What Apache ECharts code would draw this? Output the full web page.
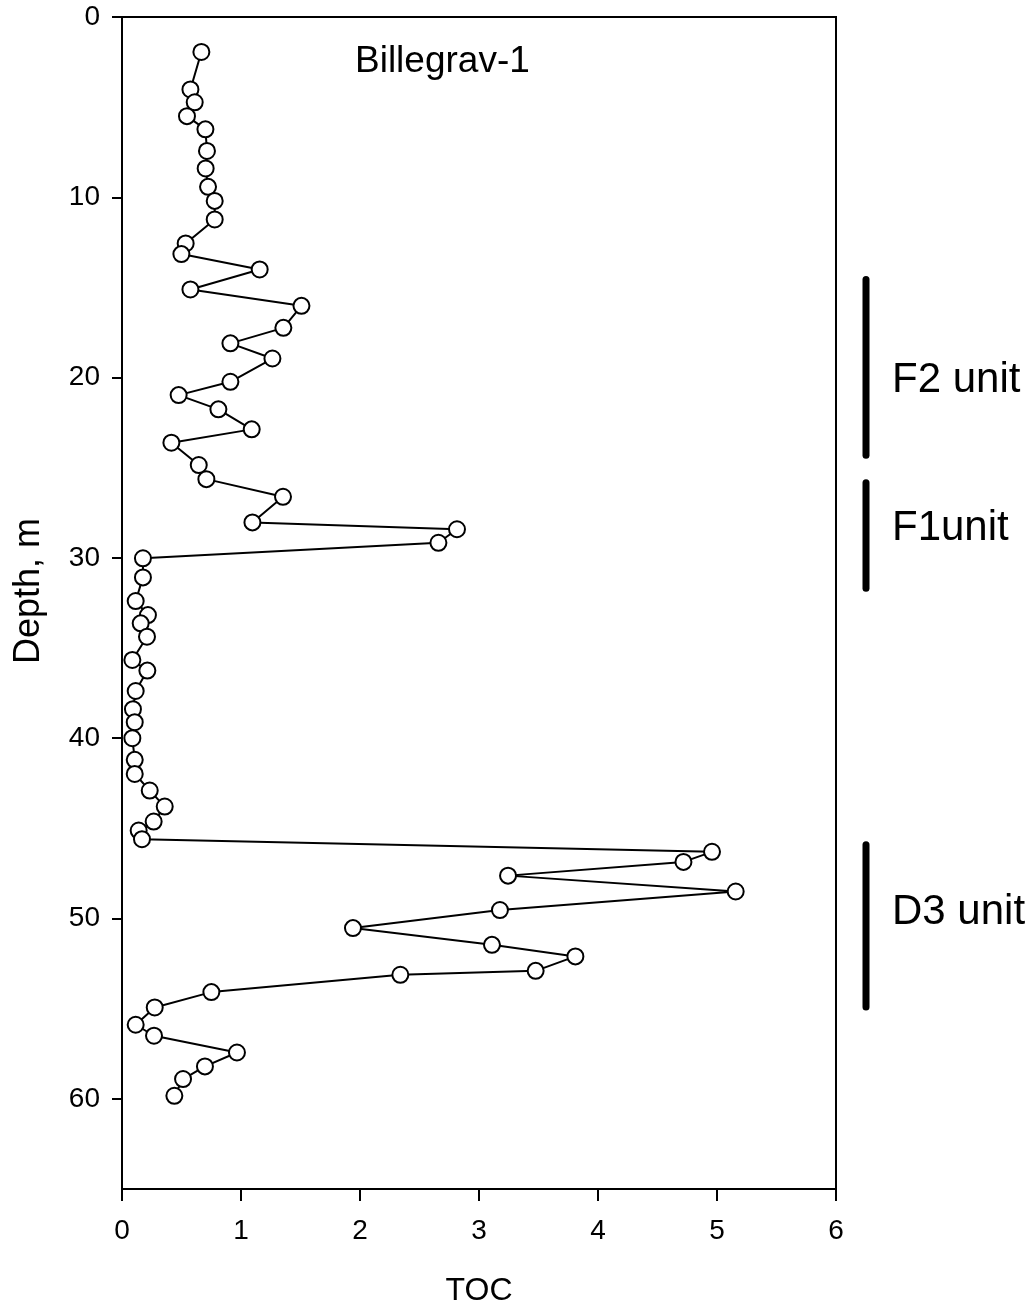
<!DOCTYPE html>
<html>
<head>
<meta charset="utf-8">
<script src="https://cdn.jsdelivr.net/npm/echarts@6/dist/echarts.min.js"></script>
<style>
html,body{margin:0;padding:0;background:#fff;}
#c{width:1029px;height:1305px;}
</style>
</head>
<body>
<div id="c"></div>
<script>
// ---- data ----
const depth = [1.94,4.02,4.73,5.50,6.23,7.43,8.40,9.42,10.20,11.23,12.56,13.15,14.00,15.11,16.02,17.24,18.10,18.94,20.23,20.97,21.76,22.87,23.61,24.85,25.63,26.61,28.03,28.41,29.16,30.02,31.08,32.39,33.17,33.63,34.37,35.66,36.25,37.38,38.39,39.11,40.00,41.20,41.98,42.90,43.79,44.62,45.12,45.60,46.30,46.86,47.62,48.50,49.53,50.53,51.46,52.10,52.90,53.12,54.08,54.93,55.89,56.50,57.43,58.20,58.90,59.83];
const toc = [0.667,0.575,0.611,0.546,0.701,0.714,0.703,0.723,0.779,0.779,0.535,0.499,1.157,0.575,1.508,1.356,0.911,1.264,0.911,0.476,0.810,1.090,0.415,0.645,0.709,1.353,1.096,2.815,2.659,0.176,0.176,0.115,0.218,0.157,0.210,0.087,0.213,0.115,0.092,0.107,0.087,0.107,0.107,0.233,0.359,0.266,0.140,0.168,4.958,4.718,3.244,5.157,3.176,1.941,3.109,3.810,3.476,2.339,0.751,0.275,0.115,0.269,0.966,0.697,0.513,0.440];
const xTicks = [0,1,2,3,4,5,6];
const yTicks = [0,10,20,30,40,50,60];
const unitNames = ['F2 unit','F1unit','D3 unit'];
const unitTop = [14.56,25.83,45.91];
const unitBottom = [24.30,31.68,54.91];
const titleText = 'Billegrav-1';
const xName = 'TOC';
const yName = 'Depth, m';

// ---- layout constants (not data) ----
const FONT = '"Liberation Sans", Arial, sans-serif';
const labelShift = [13,-7,-14]; // px offsets of unit labels relative to bar middle

const chart = echarts.init(document.getElementById('c'), null, {renderer:'canvas'});
const points = depth.map((d,i)=>[toc[i], d]);

chart.setOption({
  animation:false,
  backgroundColor:'#fff',
  title:{
    text:titleText, left:350, top:38,
    textStyle:{fontFamily:FONT, fontSize:37, fontWeight:'normal', color:'#000'}
  },
  grid:{left:122, right:193, top:17, bottom:116, outerBoundsMode:'none', containLabel:false,
        show:true, borderColor:'#000', borderWidth:2, backgroundColor:'transparent'},
  xAxis:{
    type:'value', min:0, max:6, interval:1, position:'bottom',
    name:xName, nameLocation:'middle', nameGap:86,
    nameTextStyle:{fontFamily:FONT, fontSize:32, color:'#000'},
    axisLine:{show:true, onZero:false, lineStyle:{color:'#000', width:2}},
    axisTick:{show:true, inside:false, length:12, lineStyle:{color:'#000', width:2}},
    axisLabel:{show:true, margin:28, fontFamily:FONT, fontSize:28, color:'#000', customValues:xTicks},
    splitLine:{show:false}
  },
  yAxis:{
    type:'value', inverse:true, min:0, max:65, interval:10, position:'left',
    name:'', 
    axisLine:{show:true, onZero:false, lineStyle:{color:'#000', width:2}},
    axisTick:{show:true, inside:false, length:10, lineStyle:{color:'#000', width:2}, customValues:yTicks},
    axisLabel:{show:true, margin:22, fontFamily:FONT, fontSize:28, color:'#000', customValues:yTicks},
    splitLine:{show:false}
  },
  series:[{
    type:'line',
    data:points,
    symbol:'circle',
    symbolSize:16,
    lineStyle:{color:'#000', width:2},
    itemStyle:{color:'#fff', borderColor:'#000', borderWidth:2},
    clip:false,
    z:3
  }]
});

function drawExtras(){
  const xEdge = chart.convertToPixel({gridIndex:0},[6,0])[0];
  const barX = xEdge + 30;
  const textX = xEdge + 56;
  const g = [];
  unitNames.forEach((n,i)=>{
    const y1 = chart.convertToPixel({gridIndex:0},[0,unitTop[i]])[1];
    const y2 = chart.convertToPixel({gridIndex:0},[0,unitBottom[i]])[1];
    g.push({type:'line', shape:{x1:barX, y1:y1, x2:barX, y2:y2},
      style:{stroke:'#000', lineWidth:7, lineCap:'round'}, z:10});
    g.push({type:'text', x:textX, y:(y1+y2)/2 + labelShift[i],
      style:{text:n, fill:'#000', fontFamily:FONT, fontSize:42, textAlign:'left', textVerticalAlign:'middle'}, z:10});
  });
  // y-axis title, rotated, slightly above the axis middle as in the reference
  const yTop = chart.convertToPixel({gridIndex:0},[0,0])[1];
  const yBot = chart.convertToPixel({gridIndex:0},[0,65])[1];
  g.push({type:'text', x:29, y:(yTop+yBot)/2 - 12, rotation:Math.PI/2,
    style:{text:yName, fill:'#000', fontFamily:FONT, fontSize:36, textAlign:'center', textVerticalAlign:'middle'}, z:10});
  chart.setOption({graphic:g});
}
drawExtras();
</script>
</body>
</html>
